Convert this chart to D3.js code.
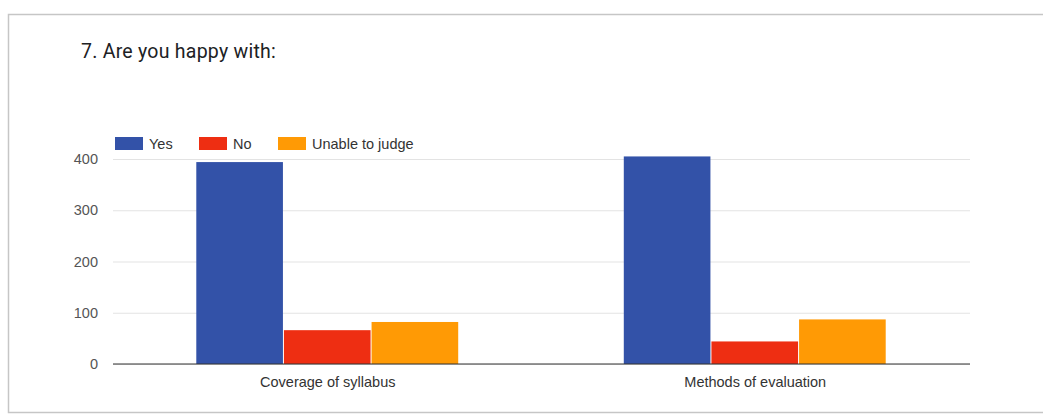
<!DOCTYPE html>
<html><head><meta charset="utf-8">
<script src="https://cdn.jsdelivr.net/npm/d3@7"></script>
<style>body{margin:0;background:#fff;}svg{display:block;}</style>
</head><body>
<svg id="c" width="1043" height="417"></svg>
<script>
const categories = ["Coverage of syllabus", "Methods of evaluation"];
const seriesNames = ["Yes", "No", "Unable to judge"];
const yesValues = [394, 405];
const noValues = [66, 44];
const unableValues = [82, 87];
const yTicks = [0, 100, 200, 300, 400];
const colors = ["#3352a8", "#ee2e12", "#ff9a05"];

const svg = d3.select("#c");
const font = "'Liberation Sans', Arial, sans-serif";
const titleFont = "Roboto, Arial, sans-serif";

// card border
svg.append("rect").attr("x", 8.5).attr("y", 14.5).attr("width", 1100).attr("height", 398)
  .attr("fill", "#fff").attr("stroke", "#c6c6c6").attr("stroke-width", 1.5);

svg.append("text").attr("x", 81).attr("y", 58).text("7. Are you happy with:")
  .attr("font-family", titleFont).attr("font-size", 19.5).attr("letter-spacing", 0.25).attr("fill", "#202124");

const y = d3.scaleLinear().domain([0, 400]).range([364, 159]);
const x0 = d3.scaleBand().domain(categories).range([114, 969]).paddingInner(0.385).paddingOuter(0.1925);
const x1 = d3.scaleBand().domain(seriesNames).range([0, x0.bandwidth()]);

const rows = categories.map((c, i) => ({cat: c, vals: [yesValues[i], noValues[i], unableValues[i]]}));

// gridlines
const yAxis = d3.axisLeft(y).tickValues(yTicks).tickSize(-(970 - 113)).tickPadding(15);
const ga = svg.append("g").attr("transform", "translate(113,0)").call(yAxis);
ga.select(".domain").remove();
ga.selectAll(".tick line").attr("stroke", "#e3e3e3");
ga.selectAll(".tick text").attr("font-family", font).attr("font-size", 14.5).attr("fill", "#555");

// bars
const g = svg.append("g");
rows.forEach(r => {
  g.selectAll(null).data(r.vals.map((v, j) => ({v, s: seriesNames[j], j})))
    .enter().append("rect")
    .attr("x", d => x0(r.cat) + x1(d.s))
    .attr("width", x1.bandwidth() - 1)
    .attr("y", d => y(d.v))
    .attr("height", d => y(0) - y(d.v))
    .attr("fill", d => colors[d.j]);
});

// baseline
svg.append("line").attr("x1", 113).attr("x2", 970).attr("y1", y(0)).attr("y2", y(0))
  .attr("stroke", "#333").attr("stroke-width", 1.2);

// x axis labels
const xAxis = d3.axisBottom(x0).tickSize(0).tickPadding(13);
const gx = svg.append("g").attr("transform", `translate(0,${y(0)})`).call(xAxis);
gx.select(".domain").remove();
gx.selectAll(".tick text").attr("font-family", font).attr("font-size", 14.5).attr("fill", "#333");

// legend
const legX = [115, 199, 278];
const leg = svg.append("g");
seriesNames.forEach((s, i) => {
  leg.append("rect").attr("x", legX[i]).attr("y", 137).attr("width", 28).attr("height", 13).attr("fill", colors[i]);
  leg.append("text").attr("x", legX[i] + 34).attr("y", 149).text(s)
    .attr("font-family", font).attr("font-size", 14.5).attr("fill", "#333");
});
</script>
</body></html>
